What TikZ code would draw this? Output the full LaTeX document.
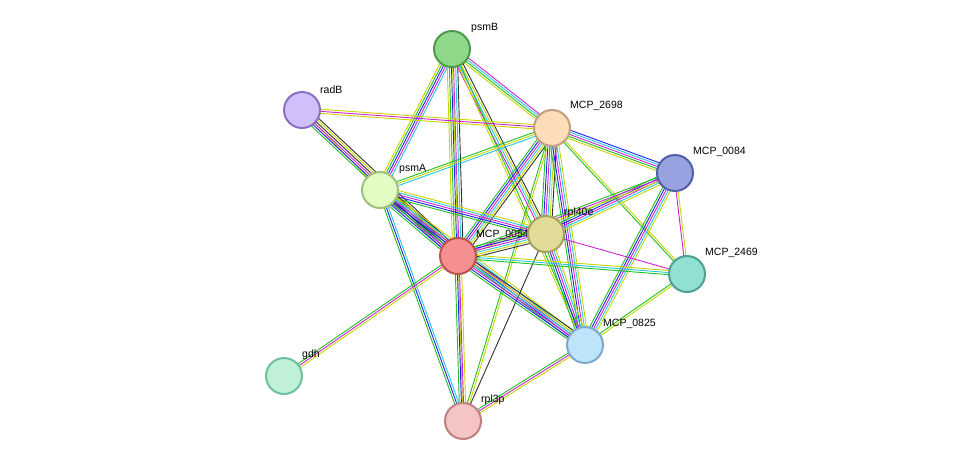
\documentclass[tikz,border=0pt]{standalone}
\usepackage{fontspec}
\setmainfont{Liberation Sans}
\usetikzlibrary{calc,backgrounds}
\definecolor{ey}{HTML}{C8D400}
\definecolor{eg}{HTML}{20C020}
\definecolor{eb}{HTML}{2020F0}
\definecolor{em}{HTML}{D020D0}
\definecolor{ec}{HTML}{20C8E0}
\definecolor{ek}{HTML}{303030}
\definecolor{fpsmB}{HTML}{8FD88A}\definecolor{dpsmB}{HTML}{4E9A4A}
\definecolor{fradB}{HTML}{D0BFF8}\definecolor{dradB}{HTML}{8A70C0}
\definecolor{f2698}{HTML}{FDDCB8}\definecolor{d2698}{HTML}{C0A080}
\definecolor{f0084}{HTML}{99A2E0}\definecolor{d0084}{HTML}{5060A8}
\definecolor{fpsmA}{HTML}{E2FCC2}\definecolor{dpsmA}{HTML}{A0C080}
\definecolor{f0054}{HTML}{F59090}\definecolor{d0054}{HTML}{C05050}
\definecolor{frpl40}{HTML}{E0DC98}\definecolor{drpl40}{HTML}{A8A060}
\definecolor{f2469}{HTML}{90E0D4}\definecolor{d2469}{HTML}{50A090}
\definecolor{f0825}{HTML}{BDE4FA}\definecolor{d0825}{HTML}{80A8C8}
\definecolor{fgdh}{HTML}{C0F0D8}\definecolor{dgdh}{HTML}{70C0A0}
\definecolor{frpl3}{HTML}{F5C4C4}\definecolor{drpl3}{HTML}{C08080}
\newcommand\edg[3]{\foreach \c [count=\n] in {#3}{\xdef\nn{\n}}\foreach \c [count=\i] in {#3}{\pgfmathsetmacro\off{(\i-(\nn+1)/2)*2.1}\draw[\c,line width=0.9pt] ($(#1)!\off pt!90:(#2)$) -- ($(#2)!\off pt!-90:(#1)$);}}
\tikzset{prot/.style={circle,minimum size=36pt,inner sep=0pt,line width=2pt,fill=f#1,draw=d#1},
lab/.style={font=\fontsize{10.5}{11}\selectfont,anchor=south west,inner sep=1pt}}
\begin{document}
\begin{tikzpicture}[x=1pt,y=-1pt]
\useasboundingbox (0,0) rectangle (975,467);
\node[prot=psmB] (psmB) at (452,49) {};
\node[lab] at (470,34) {psmB};
\node[prot=radB] (radB) at (302,110) {};
\node[lab] at (319,95) {radB};
\node[prot=2698] (M2698) at (552,128) {};
\node[lab] at (569,112) {MCP\_2698};
\node[prot=0084] (M0084) at (675,173) {};
\node[lab] at (692,158) {MCP\_0084};
\node[prot=psmA] (psmA) at (380,190) {};
\node[lab] at (398,175) {psmA};
\node[prot=0054] (M0054) at (458,256) {};
\node[lab] at (475,241) {MCP\_0054};
\node[prot=rpl40] (rpl40e) at (546,234) {};
\node[lab] at (563,219) {rpl40e};
\node[prot=2469] (M2469) at (687,274) {};
\node[lab] at (704,259) {MCP\_2469};
\node[prot=0825] (M0825) at (585,345) {};
\node[lab] at (602,330) {MCP\_0825};
\node[prot=gdh] (gdh) at (284,376) {};
\node[lab] at (301,361) {gdh};
\node[prot=rpl3] (rpl3p) at (463,421) {};
\node[lab] at (480,406) {rpl3p};
\begin{scope}[on background layer]
\edg{psmB}{psmA}{ey,eg,eb,em,ec}
\edg{psmB}{M0054}{ey,eg,eb,em,ec,ek}
\edg{psmB}{M2698}{ey,eg,ec,em}
\edg{psmB}{rpl40e}{em,ec,ey,ek}
\edg{psmB}{M0825}{ey,eg}
\edg{psmB}{rpl3p}{ey}
\edg{radB}{M2698}{ey,em,ey}
\edg{radB}{psmA}{ey}
\edg{radB}{M0054}{eg,eb,em,ek,ey,ek}
\edg{M2698}{psmA}{eg,ey,ec}
\edg{M2698}{M0054}{eg,eb,em,ec,ey,ek}
\edg{M2698}{M0084}{ey,eg,em,ec,eb}
\edg{M2698}{rpl40e}{eg,eb,em,ec,ey,ek}
\edg{M2698}{M2469}{eg,ey}
\edg{M2698}{M0825}{eg,eb,em,ec,ey}
\edg{M2698}{rpl3p}{eg,ey}
\edg{M0084}{rpl40e}{eg,eb,em,ec,ey}
\edg{M0084}{M0054}{eg,em,ey}
\edg{M0084}{M2469}{em,ey}
\edg{M0084}{M0825}{eg,eb,em,ec,ey}
\edg{psmA}{rpl40e}{eg,eb,em,ec,ey}
\edg{psmA}{M0054}{eg,eb,em,ek,ec,ey,ek}
\edg{psmA}{M0825}{eg,eb,em,ec,ey}
\edg{psmA}{rpl3p}{eg,eb,ec}
\edg{rpl40e}{M0054}{eg,eb,em,ec,ey,ek}
\edg{rpl40e}{M2469}{em}
\edg{rpl40e}{M0825}{eg,eb,em,ec,ey}
\edg{rpl40e}{rpl3p}{ek}
\edg{M0054}{M2469}{eg,ec,ey}
\edg{M0054}{M0825}{eg,eb,em,ec,ey,ek}
\edg{M0054}{rpl3p}{eg,eb,em,ey}
\edg{M0054}{gdh}{eg,em,ey}
\edg{M2469}{M0825}{eg,ey}
\edg{M0825}{rpl3p}{eg,em,ey}
\end{scope}
\end{tikzpicture}
\end{document}
